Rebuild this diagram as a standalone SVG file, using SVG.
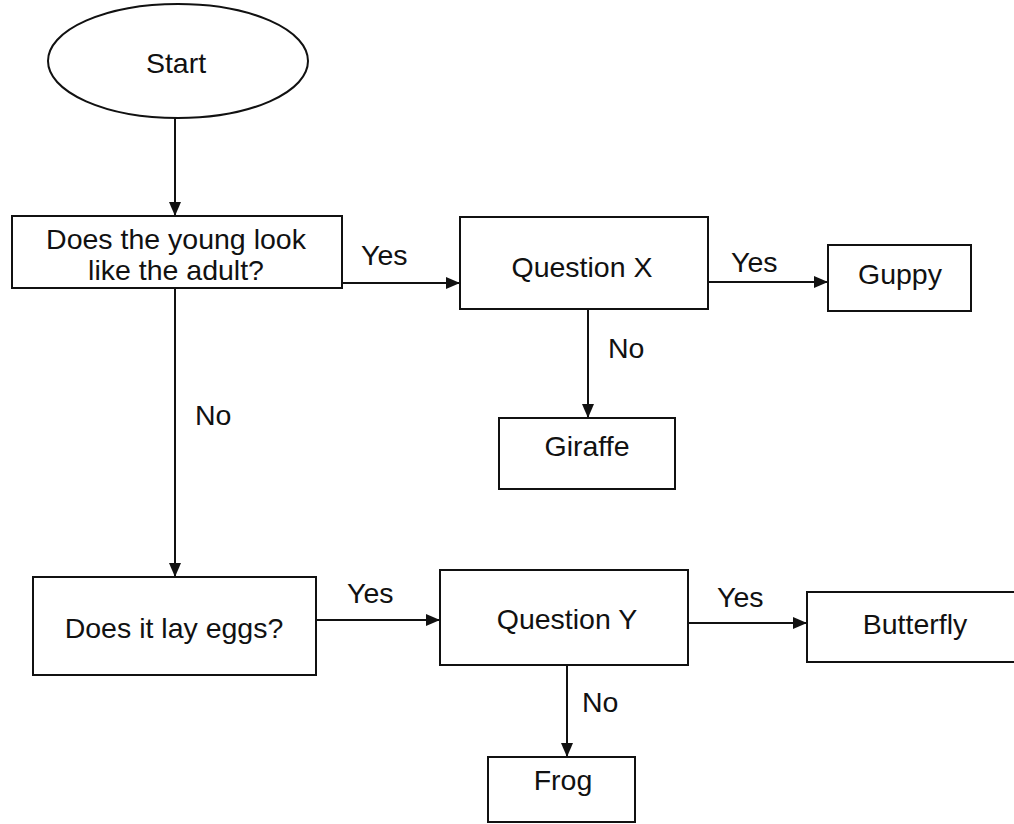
<svg xmlns="http://www.w3.org/2000/svg" width="1014" height="824" viewBox="0 0 1014 824">
<style>
.box{fill:#fff;stroke:#111;stroke-width:2}
.t{font-family:"Liberation Sans",Arial,sans-serif;font-size:28.5px;fill:#111;text-anchor:middle}
.l{font-family:"Liberation Sans",Arial,sans-serif;font-size:28.5px;fill:#111}
.c{stroke:#111;stroke-width:2;fill:none;marker-end:url(#ah)}
</style>
<defs>
<marker id="ah" markerUnits="userSpaceOnUse" markerWidth="16" markerHeight="16" viewBox="0 0 16 16" refX="14" refY="8" orient="auto">
<path d="M0,2 L14,8 L0,14 Z" fill="#111"/>
</marker>
</defs>
<rect width="1014" height="824" fill="#fff"/>
<g id="connectors">
<line class="c" x1="175" y1="118" x2="175" y2="216"/>
<line class="c" x1="342" y1="283" x2="460" y2="283"/>
<line class="c" x1="708" y1="282" x2="828" y2="282"/>
<line class="c" x1="588" y1="309" x2="588" y2="418"/>
<line class="c" x1="175" y1="288" x2="175" y2="577"/>
<line class="c" x1="316" y1="620" x2="440" y2="620"/>
<line class="c" x1="688" y1="623" x2="807" y2="623"/>
<line class="c" x1="567" y1="665" x2="567" y2="757"/>
<text class="l" x="361" y="265">Yes</text>
<text class="l" x="731" y="272">Yes</text>
<text class="l" x="608" y="358">No</text>
<text class="l" x="195" y="425">No</text>
<text class="l" x="347" y="603">Yes</text>
<text class="l" x="717" y="607">Yes</text>
<text class="l" x="582" y="712">No</text>
</g>
<g id="start">
<ellipse class="box" cx="178" cy="61" rx="130" ry="57"/>
<text class="t" x="176" y="73">Start</text>
</g>
<g id="q1">
<rect class="box" x="12" y="216" width="330" height="72"/>
<text class="t" x="176" y="249">Does the young look</text>
<text class="t" x="176" y="280">like the adult?</text>
</g>
<g id="qx">
<rect class="box" x="460" y="217" width="248" height="92"/>
<text class="t" x="582" y="277">Question X</text>
</g>
<g id="guppy">
<rect class="box" x="828" y="245" width="143" height="66"/>
<text class="t" x="900" y="284">Guppy</text>
</g>
<g id="giraffe">
<rect class="box" x="499" y="418" width="176" height="71"/>
<text class="t" x="587" y="456">Giraffe</text>
</g>
<g id="q2">
<rect class="box" x="33" y="577" width="283" height="98"/>
<text class="t" x="174" y="638">Does it lay eggs?</text>
</g>
<g id="qy">
<rect class="box" x="440" y="570" width="248" height="95"/>
<text class="t" x="567" y="629">Question Y</text>
</g>
<g id="butterfly">
<rect class="box" x="807" y="592" width="215" height="70"/>
<text class="t" x="915" y="634">Butterfly</text>
</g>
<g id="frog">
<rect class="box" x="488" y="757" width="147" height="65"/>
<text class="t" x="563" y="790">Frog</text>
</g>
</svg>
